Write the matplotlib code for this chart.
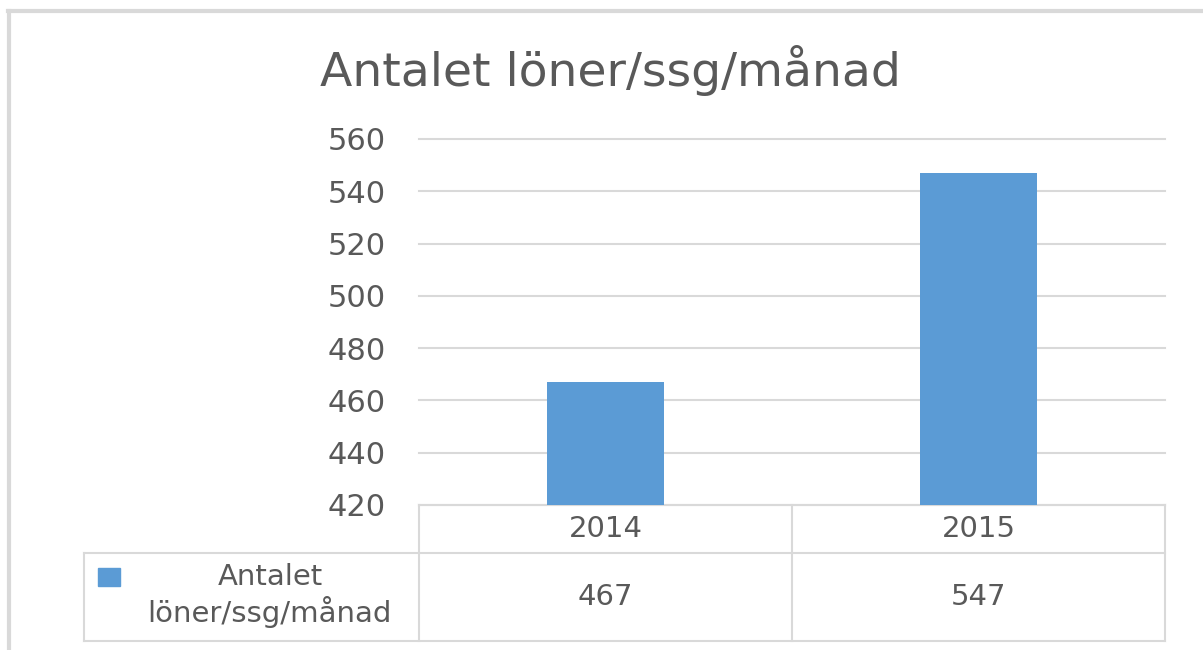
import matplotlib.pyplot as plt
from matplotlib.transforms import blended_transform_factory
from matplotlib.patches import Rectangle

title = "Antalet löner/ssg/månad"
years = ["2014", "2015"]
values = [467, 547]
series_label = ["Antalet", "löner/ssg/månad"]
y_ticks = [420, 440, 460, 480, 500, 520, 540, 560]

W, H = 1203, 650
bar_color = "#5B9BD5"
grid_color = "#D9D9D9"
text_color = "#595959"

fig = plt.figure(figsize=(W / 100, H / 100), dpi=100)


def fx(px):
    return px / W


def fy(py):
    return 1 - py / H


# plot area in pixels
left, right, top, bottom = 419, 1165, 139, 505
ax = fig.add_axes([fx(left), fy(bottom), fx(right) - fx(left), fy(top) - fy(bottom)])

x = list(range(len(years)))
ax.bar(x, [v - y_ticks[0] for v in values], bottom=y_ticks[0], width=0.316,
       color=bar_color, zorder=3)
ax.set_xlim(-0.5, len(years) - 0.5)
ax.set_ylim(y_ticks[0], y_ticks[-1])
ax.set_yticks(y_ticks)
ax.set_yticklabels([str(t) for t in y_ticks])
ax.set_xticks([])
ax.grid(axis="y", color=grid_color, linewidth=1.5, zorder=0)
for gl in ax.get_ygridlines():
    gl.set_clip_on(False)
ax.tick_params(axis="y", length=0, pad=24, labelsize=22, labelcolor=text_color)
for s in ax.spines.values():
    s.set_visible(False)
ax.axhline(y_ticks[0], color=grid_color, linewidth=1.5, zorder=2, clip_on=False)

# data table below the axes
tr = blended_transform_factory(ax.transData, fig.transFigure)
row1, row2, row3 = 505, 553, 641
bounds = [i - 0.5 for i in range(len(years) + 1)]
for b in bounds:
    ax.plot([b, b], [fy(row1), fy(row3)], transform=tr, color=grid_color,
            linewidth=1.5, clip_on=False)
for r in (row2, row3):
    fig.add_artist(plt.Line2D([fx(84), fx(right)], [fy(r), fy(r)],
                              color=grid_color, linewidth=1.5))
fig.add_artist(plt.Line2D([fx(84), fx(84)], [fy(row2), fy(row3)],
                          color=grid_color, linewidth=1.5))

for i, (yr, v) in enumerate(zip(years, values)):
    ax.text(i, fy((row1 + row2) / 2), yr, transform=tr, ha="center", va="center",
            fontsize=21, color=text_color)
    ax.text(i, fy((row2 + row3) / 2), str(v), transform=tr, ha="center", va="center",
            fontsize=21, color=text_color)

fig.add_artist(Rectangle((fx(98), fy(586)), fx(22), 18 / H, color=bar_color,
                         transform=fig.transFigure))
fig.text(fx(270), fy(577), series_label[0], ha="center", va="center",
         fontsize=21, color=text_color)
fig.text(fx(269), fy(612), series_label[1], ha="center", va="center",
         fontsize=21, color=text_color)

# title
fig.text(fx(610), fy(70), title, ha="center", va="center", fontsize=34,
         color=text_color)

# outer chart frame (only top and left visible)
fig.add_artist(plt.Line2D([fx(8), 1], [fy(11), fy(11)], color=grid_color, linewidth=3))
fig.add_artist(plt.Line2D([fx(9), fx(9)], [fy(11), 0], color=grid_color, linewidth=3))

fig.savefig("out.png", dpi=100, facecolor="white")
